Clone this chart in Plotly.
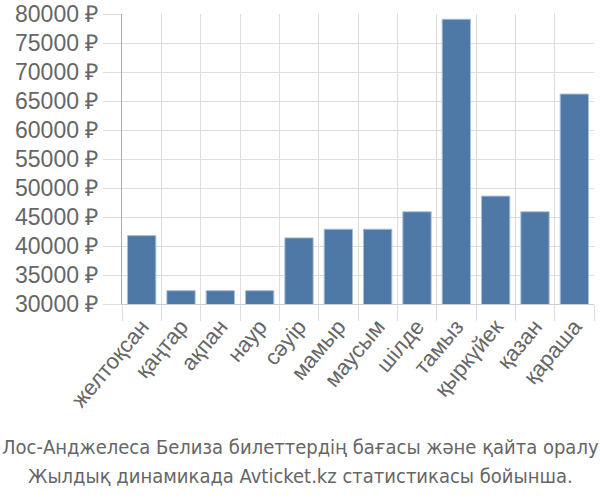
import plotly.graph_objects as go

months = ["желтоқсан", "қаңтар", "ақпан", "наур", "сәуір", "мамыр", "маусым",
          "шілде", "тамыз", "қыркүйек", "қазан", "қараша"]
prices = [41800, 32300, 32300, 32300, 41400, 42900, 42900, 45900, 79100, 48600, 45900, 66200]
y_ticks = [30000, 35000, 40000, 45000, 50000, 55000, 60000, 65000, 70000, 75000, 80000]
caption = ["Лос-Анджелеса Белиза билеттердің бағасы және қайта оралу",
           "Жылдық динамикада Avticket.kz статистикасы бойынша."]

fig = go.Figure(go.Bar(
    x=months, y=prices,
    marker=dict(color="#4e79a7", line=dict(color="#a9bfd6", width=1)),
))

fig.update_layout(
    width=600, height=500,
    margin=dict(l=122, r=6, t=14, b=196, autoexpand=False),
    plot_bgcolor="white", paper_bgcolor="white",
    bargap=0.28,
    showlegend=False,
    font=dict(family="Liberation Sans, Arial, sans-serif", color="#666666"),
)
fig.update_xaxes(
    tickson="boundaries", showgrid=True, gridcolor="#dddddd", gridwidth=1,
    ticks="outside", ticklen=16, tickcolor="#dddddd",
    showline=True, linecolor="#cccccc", tickangle=-50, automargin=False,
    tickfont=dict(size=22, color="#666666"),
)
fig.update_yaxes(
    range=[30000, 80000], tickvals=y_ticks, ticktext=[f"{v} ₽" for v in y_ticks],
    showgrid=True, gridcolor="#dddddd", gridwidth=1,
    ticks="outside", ticklen=18, tickcolor="#dddddd",
    showline=True, linecolor="#aaaaaa", zeroline=False, automargin=False,
    tickfont=dict(size=23, color="#666666"),
)
for i, line in enumerate(caption):
    fig.add_annotation(
        text=line, xref="paper", yref="paper", x=(300 - 122) / 472, y=1 - (447 + 29 * i - 14) / 290,
        xanchor="center", yanchor="middle", showarrow=False,
        font=dict(size=20, color="#666666", family="DejaVu Sans Condensed, Roboto, sans-serif"),
    )

fig.write_html("out.html")
